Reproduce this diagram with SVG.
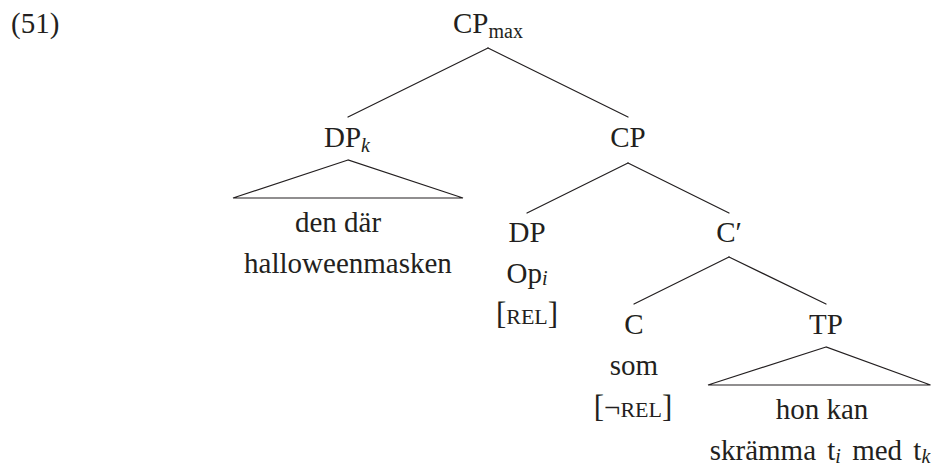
<svg xmlns="http://www.w3.org/2000/svg" width="931" height="467" viewBox="0 0 931 467">
  <style>
    text { font-family: "Liberation Serif", "Times New Roman", serif; font-size: 29px; fill: #231f20; text-anchor: middle; }
    .ex { text-anchor: start; }
    .sub { font-size: 20px; }
    .it { font-style: italic; }
    .sc { font-size: 22px; }
    .br { font-size: 31px; }
    .edge { stroke: #231f20; stroke-width: 1.2; fill: none; stroke-linecap: round; }
    .tri { stroke: #231f20; stroke-width: 1.2; fill: none; stroke-linejoin: miter; }
  </style>
  <rect width="931" height="467" fill="#ffffff"/>

  <text class="ex" x="11" y="33">(51)</text>

  <g id="connectors">
    <line class="edge" x1="488" y1="48" x2="348" y2="117"/>
    <line class="edge" x1="488" y1="48" x2="628" y2="117"/>
    <line class="edge" x1="628" y1="163" x2="527" y2="213"/>
    <line class="edge" x1="628" y1="163" x2="729" y2="213"/>
    <line class="edge" x1="729" y1="257" x2="634" y2="304"/>
    <line class="edge" x1="729" y1="257" x2="826" y2="304"/>
  </g>

  <g id="node-cpmax">
    <text x="488" y="33">CP<tspan class="sub" dy="5">max</tspan></text>
  </g>

  <g id="node-dpk">
    <text x="347" y="147">DP<tspan class="sub it" dy="5">k</tspan></text>
    <polygon class="tri" points="348,160 233,198 463,198"/>
    <text x="338" y="232">den där</text>
    <text x="348" y="273">halloweenmasken</text>
  </g>

  <g id="node-cp">
    <text x="628" y="147">CP</text>
  </g>

  <g id="node-dp">
    <text x="527" y="242">DP</text>
    <text x="527" y="283">Op<tspan class="sub it" dy="2">i</tspan></text>
    <text x="527" y="324"><tspan class="br">[</tspan><tspan class="sc">REL</tspan><tspan class="br">]</tspan></text>
  </g>

  <g id="node-cbar">
    <text x="729" y="242">C′</text>
  </g>

  <g id="node-c">
    <text x="634" y="334">C</text>
    <text x="634" y="375">som</text>
    <text x="633" y="417"><tspan class="br">[</tspan>¬<tspan class="sc">REL</tspan><tspan class="br">]</tspan></text>
  </g>

  <g id="node-tp">
    <text x="826" y="334">TP</text>
    <polygon class="tri" points="826,347 708,385 930.5,385"/>
    <text x="822" y="419">hon kan</text>
    <text x="820" y="460" word-spacing="4">skrämma t<tspan class="sub it" dy="3">i</tspan><tspan dy="-3"> med t</tspan><tspan class="sub it" dy="3">k</tspan></text>
  </g>
</svg>
